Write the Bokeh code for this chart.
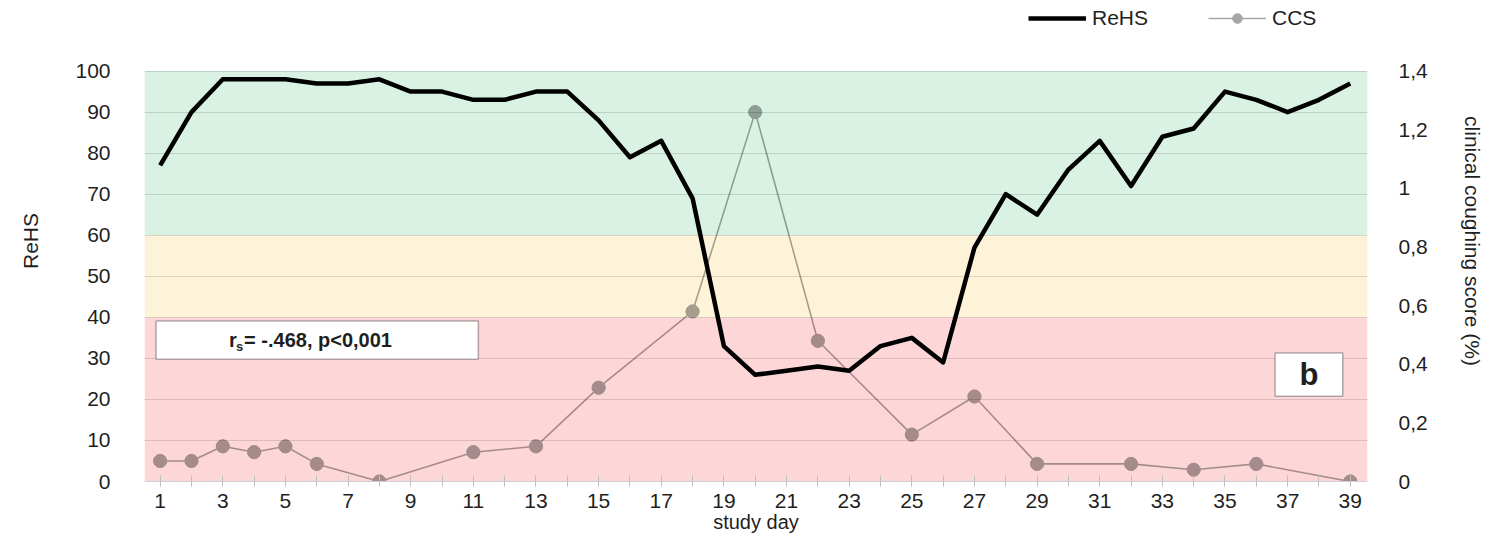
from bokeh.plotting import figure
from bokeh.models import (Range1d, LinearAxis, FixedTicker, CustomJSTickFormatter,
                          BoxAnnotation, Label, Legend, LegendItem, ColumnDataSource)
from bokeh.embed import file_html
from bokeh.resources import INLINE

# ---------------- data ----------------
days = list(range(1, 40))
rehs = [77, 90, 98, 98, 98, 97, 97, 98, 95, 95,
        93, 93, 95, 95, 88, 79, 83, 69, 33, 26,
        27, 28, 27, 33, 35, 29, 57, 70, 65, 76,
        83, 72, 84, 86, 95, 93, 90, 93, 97]
ccs_days = [1, 2, 3, 4, 5, 6, 8, 11, 13, 15, 18, 20, 22, 25, 27, 29, 32, 34, 36, 39]
ccs = [0.07, 0.07, 0.12, 0.10, 0.12, 0.06, 0.0, 0.10, 0.12, 0.32,
       0.58, 1.26, 0.48, 0.16, 0.29, 0.06, 0.06, 0.04, 0.06, 0.0]
x_ticks = list(range(1, 40, 2))
rehs_ticks = list(range(0, 101, 10))
ccs_ticks = [0, 0.2, 0.4, 0.6, 0.8, 1.0, 1.2, 1.4]
band_limits = [(0, 40), (40, 60), (60, 100)]
band_colors = ["#fdd6d7", "#fdf3d9", "#d9f2e3"]
marker_band_colors = ["#a58b8c", "#a59e8d", "#8d9e94"]
ccs_max = 1.4
rehs_max = 100

FONT = "Liberation Sans"
TXT = "#1f1f1f"

# frame runs to the top of the canvas (room for the legend above the 0-100 area)
top_extent = 117.2
p = figure(width=1490, height=539,
           x_range=Range1d(0.5, 39.55), y_range=Range1d(0, top_extent),
           output_backend="svg", toolbar_location=None,
           min_border_left=144, min_border_right=123,
           min_border_top=0, min_border_bottom=58)
p.extra_y_ranges = {"ccs": Range1d(0, ccs_max * top_extent / rehs_max)}
p.outline_line_color = None
p.background_fill_color = "white"

# colored bands
for (lo, hi), c in zip(band_limits, band_colors):
    p.add_layout(BoxAnnotation(bottom=lo, top=hi, fill_color=c, fill_alpha=1.0,
                               line_color=None, level="underlay"))

p.xgrid.visible = False
p.ygrid.ticker = FixedTicker(ticks=rehs_ticks)
p.ygrid.grid_line_color = "black"
p.ygrid.grid_line_alpha = 0.13
p.ygrid.grid_line_width = 1
p.ygrid.level = "glyph"

# x axis
xa = p.xaxis[0]
xa.ticker = FixedTicker(ticks=x_ticks, minor_ticks=days)
xa.axis_label = "study day"
xa.axis_line_color = "#d0d0d0"
xa.major_tick_line_color = "#bfbfbf"
xa.minor_tick_line_color = "#bfbfbf"
xa.major_tick_in = 6
xa.major_tick_out = 5
xa.minor_tick_in = 6
xa.minor_tick_out = 5
xa.major_label_standoff = 7
xa.axis_label_standoff = 0
xa.major_label_text_font = FONT
xa.major_label_text_font_size = "21px"
xa.major_label_text_color = TXT
xa.axis_label_text_font = FONT
xa.axis_label_text_font_size = "20px"
xa.axis_label_text_font_style = "normal"
xa.axis_label_text_color = TXT

# left axis
ya = p.yaxis[0]
ya.ticker = FixedTicker(ticks=rehs_ticks)
ya.bounds = (0, rehs_max)
ya.axis_label = "ReHS"
ya.axis_line_color = None
ya.major_tick_line_color = None
ya.minor_tick_line_color = None
ya.major_label_standoff = 28
ya.axis_label_standoff = 30
ya.major_label_text_font = FONT
ya.major_label_text_font_size = "21px"
ya.major_label_text_color = TXT
ya.axis_label_text_font = FONT
ya.axis_label_text_font_size = "21px"
ya.axis_label_text_font_style = "normal"
ya.axis_label_text_color = TXT
ya.axis_label_text_align = "right"

# right axis
ra = LinearAxis(y_range_name="ccs", axis_label="clinical coughing score (%)")
ra.ticker = FixedTicker(ticks=ccs_ticks)
ra.bounds = (0, ccs_max)
ra.formatter = CustomJSTickFormatter(code="""
    var v = Math.round(tick * 10) / 10;
    return v.toString().replace('.', ',');
""")
ra.axis_line_color = None
ra.major_tick_line_color = None
ra.minor_tick_line_color = None
ra.major_label_standoff = 25
ra.axis_label_standoff = 30
ra.major_label_text_font = FONT
ra.major_label_text_font_size = "21px"
ra.major_label_text_color = TXT
ra.axis_label_text_font = FONT
ra.axis_label_text_font_size = "21px"
ra.axis_label_text_font_style = "normal"
ra.axis_label_text_color = TXT
p.add_layout(ra, "right")

# data series
def band_color(v):
    r = v / ccs_max * rehs_max
    for (lo, hi), c in zip(band_limits, marker_band_colors):
        if lo <= r < hi:
            return c
    return marker_band_colors[-1]

ccs_src = ColumnDataSource(dict(x=ccs_days, y=ccs, c=[band_color(v) for v in ccs]))
rehs_src = ColumnDataSource(dict(x=days, y=rehs))

ccs_line = p.line("x", "y", source=ccs_src, y_range_name="ccs",
                  line_color="black", line_alpha=0.35, line_width=1.6)
ccs_grey = p.scatter("x", "y", source=ccs_src, y_range_name="ccs", size=13,
                     fill_color="#a6a6a6", line_color="#a6a6a6")
ccs_pts = p.scatter("x", "y", source=ccs_src, y_range_name="ccs", size=13,
                    fill_color="c", line_color="c")
rehs_line = p.line("x", "y", source=rehs_src, line_color="black", line_width=4.5,
                   line_join="round")

legend = Legend(items=[LegendItem(label="ReHS", renderers=[rehs_line]),
                       LegendItem(label="CCS", renderers=[ccs_line, ccs_grey])],
                orientation="horizontal", location=(884, 451),
                label_text_font=FONT, label_text_font_size="21px",
                label_text_color=TXT, glyph_width=58, glyph_height=24,
                label_standoff=6, spacing=60, padding=0, margin=0,
                border_line_color=None, background_fill_alpha=0)
p.add_layout(legend, "center")

# correlation box
p.add_layout(BoxAnnotation(left=0.87, right=11.16, bottom=29.8, top=39.1,
                           fill_color="white", fill_alpha=1.0,
                           line_color="black", line_width=1.5))
p.add_layout(Label(x=3.2, y=34.45, text="r", text_font=FONT, text_font_size="20px",
                   text_font_style="bold", text_baseline="middle", text_align="left",
                   text_color=TXT))
p.add_layout(Label(x=3.2, y=34.45, x_offset=7, y_offset=-6, text="s", text_font=FONT,
                   text_font_size="13px", text_font_style="bold",
                   text_baseline="middle", text_align="left", text_color=TXT))
p.add_layout(Label(x=3.2, y=34.45, x_offset=15, text="= -.468, p<0,001", text_font=FONT,
                   text_font_size="20px", text_font_style="bold",
                   text_baseline="middle", text_align="left", text_color=TXT))

# panel letter box
p.add_layout(BoxAnnotation(left=36.6, right=38.76, bottom=20.8, top=31.3,
                           fill_color="white", fill_alpha=1.0,
                           line_color="black", line_width=1.5))
p.add_layout(Label(x=37.68, y=26.05, text="b", text_font=FONT, text_font_size="31px",
                   text_font_style="bold", text_baseline="middle", text_align="center",
                   text_color=TXT))

open("out.html", "w").write(file_html(p, INLINE))
